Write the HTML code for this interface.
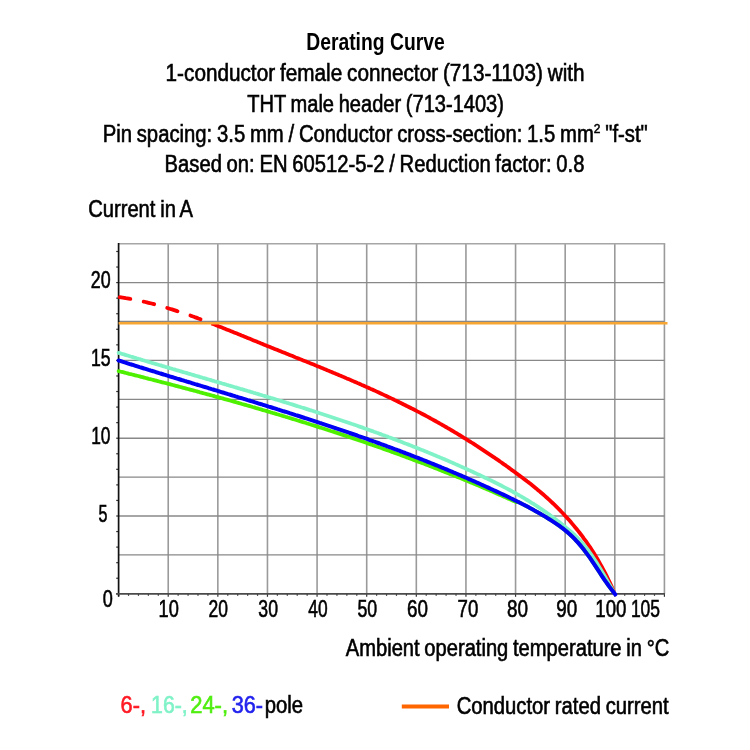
<!DOCTYPE html><html><head><meta charset="utf-8"><title>Derating Curve</title><style>html,body{margin:0;padding:0;background:#fff;overflow:hidden}svg{display:block}text{font-family:'Liberation Sans', 'DejaVu Sans', sans-serif}</style></head><body>
<svg width="750" height="750" viewBox="0 0 750 750">
<rect width="750" height="750" fill="#fff"/>
<g stroke="#9a9a9a" stroke-width="1.6"><line x1="168.22" y1="243.70" x2="168.22" y2="593.80"/><line x1="217.84" y1="243.70" x2="217.84" y2="593.80"/><line x1="267.46" y1="243.70" x2="267.46" y2="593.80"/><line x1="317.08" y1="243.70" x2="317.08" y2="593.80"/><line x1="366.70" y1="243.70" x2="366.70" y2="593.80"/><line x1="416.32" y1="243.70" x2="416.32" y2="593.80"/><line x1="465.94" y1="243.70" x2="465.94" y2="593.80"/><line x1="515.56" y1="243.70" x2="515.56" y2="593.80"/><line x1="565.18" y1="243.70" x2="565.18" y2="593.80"/><line x1="614.80" y1="243.70" x2="614.80" y2="593.80"/><line x1="664.42" y1="243.70" x2="664.42" y2="593.80"/></g>
<g stroke="#888" stroke-width="1.35"><line x1="118.60" y1="554.90" x2="664.42" y2="554.90"/><line x1="118.60" y1="516.00" x2="664.42" y2="516.00"/><line x1="118.60" y1="477.10" x2="664.42" y2="477.10"/><line x1="118.60" y1="438.20" x2="664.42" y2="438.20"/><line x1="118.60" y1="399.30" x2="664.42" y2="399.30"/><line x1="118.60" y1="360.40" x2="664.42" y2="360.40"/><line x1="118.60" y1="321.50" x2="664.42" y2="321.50"/><line x1="118.60" y1="282.60" x2="664.42" y2="282.60"/></g>
<line x1="118.60" y1="243.70" x2="665.22" y2="243.70" stroke="#a6a6a6" stroke-width="1.6"/>
<g stroke="#333" stroke-width="1.2"><line x1="116.20" y1="593.80" x2="118.60" y2="593.80"/><line x1="116.20" y1="578.24" x2="118.60" y2="578.24"/><line x1="116.20" y1="562.68" x2="118.60" y2="562.68"/><line x1="116.20" y1="547.12" x2="118.60" y2="547.12"/><line x1="116.20" y1="531.56" x2="118.60" y2="531.56"/><line x1="116.20" y1="516.00" x2="118.60" y2="516.00"/><line x1="116.20" y1="500.44" x2="118.60" y2="500.44"/><line x1="116.20" y1="484.88" x2="118.60" y2="484.88"/><line x1="116.20" y1="469.32" x2="118.60" y2="469.32"/><line x1="116.20" y1="453.76" x2="118.60" y2="453.76"/><line x1="116.20" y1="438.20" x2="118.60" y2="438.20"/><line x1="116.20" y1="422.64" x2="118.60" y2="422.64"/><line x1="116.20" y1="407.08" x2="118.60" y2="407.08"/><line x1="116.20" y1="391.52" x2="118.60" y2="391.52"/><line x1="116.20" y1="375.96" x2="118.60" y2="375.96"/><line x1="116.20" y1="360.40" x2="118.60" y2="360.40"/><line x1="116.20" y1="344.84" x2="118.60" y2="344.84"/><line x1="116.20" y1="329.28" x2="118.60" y2="329.28"/><line x1="116.20" y1="313.72" x2="118.60" y2="313.72"/><line x1="116.20" y1="298.16" x2="118.60" y2="298.16"/><line x1="116.20" y1="282.60" x2="118.60" y2="282.60"/><line x1="116.20" y1="267.04" x2="118.60" y2="267.04"/><line x1="116.20" y1="251.48" x2="118.60" y2="251.48"/><line x1="118.60" y1="593.80" x2="118.60" y2="596.80"/><line x1="128.52" y1="593.80" x2="128.52" y2="595.80"/><line x1="138.45" y1="593.80" x2="138.45" y2="595.80"/><line x1="148.37" y1="593.80" x2="148.37" y2="595.80"/><line x1="158.30" y1="593.80" x2="158.30" y2="595.80"/><line x1="168.22" y1="593.80" x2="168.22" y2="596.80"/><line x1="178.14" y1="593.80" x2="178.14" y2="595.80"/><line x1="188.07" y1="593.80" x2="188.07" y2="595.80"/><line x1="197.99" y1="593.80" x2="197.99" y2="595.80"/><line x1="207.92" y1="593.80" x2="207.92" y2="595.80"/><line x1="217.84" y1="593.80" x2="217.84" y2="596.80"/><line x1="227.76" y1="593.80" x2="227.76" y2="595.80"/><line x1="237.69" y1="593.80" x2="237.69" y2="595.80"/><line x1="247.61" y1="593.80" x2="247.61" y2="595.80"/><line x1="257.54" y1="593.80" x2="257.54" y2="595.80"/><line x1="267.46" y1="593.80" x2="267.46" y2="596.80"/><line x1="277.38" y1="593.80" x2="277.38" y2="595.80"/><line x1="287.31" y1="593.80" x2="287.31" y2="595.80"/><line x1="297.23" y1="593.80" x2="297.23" y2="595.80"/><line x1="307.16" y1="593.80" x2="307.16" y2="595.80"/><line x1="317.08" y1="593.80" x2="317.08" y2="596.80"/><line x1="327.00" y1="593.80" x2="327.00" y2="595.80"/><line x1="336.93" y1="593.80" x2="336.93" y2="595.80"/><line x1="346.85" y1="593.80" x2="346.85" y2="595.80"/><line x1="356.78" y1="593.80" x2="356.78" y2="595.80"/><line x1="366.70" y1="593.80" x2="366.70" y2="596.80"/><line x1="376.62" y1="593.80" x2="376.62" y2="595.80"/><line x1="386.55" y1="593.80" x2="386.55" y2="595.80"/><line x1="396.47" y1="593.80" x2="396.47" y2="595.80"/><line x1="406.40" y1="593.80" x2="406.40" y2="595.80"/><line x1="416.32" y1="593.80" x2="416.32" y2="596.80"/><line x1="426.24" y1="593.80" x2="426.24" y2="595.80"/><line x1="436.17" y1="593.80" x2="436.17" y2="595.80"/><line x1="446.09" y1="593.80" x2="446.09" y2="595.80"/><line x1="456.02" y1="593.80" x2="456.02" y2="595.80"/><line x1="465.94" y1="593.80" x2="465.94" y2="596.80"/><line x1="475.86" y1="593.80" x2="475.86" y2="595.80"/><line x1="485.79" y1="593.80" x2="485.79" y2="595.80"/><line x1="495.71" y1="593.80" x2="495.71" y2="595.80"/><line x1="505.64" y1="593.80" x2="505.64" y2="595.80"/><line x1="515.56" y1="593.80" x2="515.56" y2="596.80"/><line x1="525.48" y1="593.80" x2="525.48" y2="595.80"/><line x1="535.41" y1="593.80" x2="535.41" y2="595.80"/><line x1="545.33" y1="593.80" x2="545.33" y2="595.80"/><line x1="555.26" y1="593.80" x2="555.26" y2="595.80"/><line x1="565.18" y1="593.80" x2="565.18" y2="596.80"/><line x1="575.10" y1="593.80" x2="575.10" y2="595.80"/><line x1="585.03" y1="593.80" x2="585.03" y2="595.80"/><line x1="594.95" y1="593.80" x2="594.95" y2="595.80"/><line x1="604.88" y1="593.80" x2="604.88" y2="595.80"/><line x1="614.80" y1="593.80" x2="614.80" y2="596.80"/><line x1="624.72" y1="593.80" x2="624.72" y2="595.80"/><line x1="634.65" y1="593.80" x2="634.65" y2="595.80"/><line x1="644.57" y1="593.80" x2="644.57" y2="595.80"/><line x1="654.50" y1="593.80" x2="654.50" y2="595.80"/><line x1="664.42" y1="593.80" x2="664.42" y2="596.80"/></g>
<line x1="118.60" y1="242.90" x2="118.60" y2="596.60" stroke="#111" stroke-width="1.7"/>
<line x1="116.10" y1="593.80" x2="664.92" y2="593.80" stroke="#4a4a4a" stroke-width="1.7"/>
<path d="M119.7,297.2 L121.2,297.4 L122.7,297.6 L124.2,297.8 L125.8,298.1 L127.3,298.3 L128.8,298.6 L130.3,298.9 L131.8,299.1 L133.3,299.4 L134.8,299.7 L136.3,300.0 L137.9,300.4 L139.4,300.7 L140.9,301.0 L142.4,301.3 L143.9,301.7 L145.4,302.0 L146.9,302.4 L148.5,302.8 L150.0,303.2 L151.5,303.5 L153.0,303.9 L154.5,304.3 L156.0,304.7 L157.5,305.1 L159.0,305.6 L160.6,306.0 L162.1,306.4 L163.6,306.9 L165.1,307.3 L166.6,307.8 L168.1,308.2 L169.6,308.7 L171.2,309.2 L172.7,309.6 L174.2,310.1 L175.7,310.6 L177.2,311.1 L178.7,311.6 L180.2,312.1 L181.7,312.6 L183.3,313.1 L184.8,313.6 L186.3,314.1 L187.8,314.7 L189.3,315.2 L190.8,315.7 L192.3,316.3 L193.9,316.8 L195.4,317.4 L196.9,317.9 L198.4,318.5 L199.9,319.0 L201.4,319.6 L202.9,320.2 L204.4,320.7 L206.0,321.3 L207.5,321.9 L209.0,322.5 L210.5,323.1" fill="none" stroke="#ff0000" stroke-width="3.8" stroke-dasharray="10.8 13.6" stroke-linecap="round"/>
<path d="M211.5,323.4 L213.0,324.0 L214.5,324.6 L216.0,325.2 L217.5,325.8 L219.0,326.4 L220.5,327.0 L222.0,327.6 L223.5,328.2 L225.0,328.8 L226.5,329.4 L228.0,330.0 L229.5,330.6 L231.0,331.2 L232.5,331.8 L234.0,332.4 L235.5,333.0 L237.0,333.6 L238.5,334.2 L240.0,334.8 L241.6,335.5 L243.1,336.1 L244.6,336.7 L246.1,337.3 L247.6,337.9 L249.1,338.5 L250.6,339.1 L252.1,339.8 L253.6,340.4 L255.1,341.0 L256.6,341.6 L258.1,342.2 L259.6,342.8 L261.1,343.4 L262.6,344.0 L264.1,344.7 L265.6,345.3 L267.1,345.9 L268.6,346.5 L270.1,347.1 L271.6,347.7 L273.1,348.3 L274.6,348.9 L276.1,349.5 L277.6,350.1 L279.1,350.7 L280.6,351.3 L282.1,351.9 L283.6,352.5 L285.1,353.1 L286.6,353.7 L288.1,354.3 L289.6,354.9 L291.1,355.5 L292.6,356.1 L294.1,356.7 L295.6,357.4 L297.1,358.0 L298.7,358.6 L300.2,359.2 L301.7,359.8 L303.2,360.4 L304.7,361.0 L306.2,361.6 L307.7,362.2 L309.2,362.8 L310.7,363.4 L312.2,364.0 L313.7,364.6 L315.2,365.2 L316.7,365.9 L318.2,366.5 L319.7,367.1 L321.2,367.7 L322.7,368.3 L324.2,368.9 L325.7,369.5 L327.2,370.2 L328.7,370.8 L330.2,371.4 L331.7,372.0 L333.2,372.7 L334.7,373.3 L336.2,373.9 L337.7,374.5 L339.2,375.2 L340.7,375.8 L342.2,376.4 L343.7,377.1 L345.2,377.7 L346.7,378.4 L348.2,379.0 L349.7,379.6 L351.2,380.3 L352.7,380.9 L354.2,381.6 L355.8,382.2 L357.3,382.9 L358.8,383.5 L360.3,384.2 L361.8,384.9 L363.3,385.5 L364.8,386.2 L366.3,386.9 L367.8,387.5 L369.3,388.2 L370.8,388.9 L372.3,389.5 L373.8,390.2 L375.3,390.9 L376.8,391.6 L378.3,392.3 L379.8,393.0 L381.3,393.7 L382.8,394.4 L384.3,395.1 L385.8,395.8 L387.3,396.5 L388.8,397.2 L390.3,397.9 L391.8,398.6 L393.3,399.3 L394.8,400.1 L396.3,400.8 L397.8,401.5 L399.3,402.3 L400.8,403.0 L402.3,403.7 L403.8,404.5 L405.3,405.2 L406.8,406.0 L408.3,406.7 L409.8,407.5 L411.3,408.3 L412.9,409.0 L414.4,409.8 L415.9,410.6 L417.4,411.4 L418.9,412.1 L420.4,412.9 L421.9,413.7 L423.4,414.5 L424.9,415.3 L426.4,416.1 L427.9,416.9 L429.4,417.7 L430.9,418.6 L432.4,419.4 L433.9,420.2 L435.4,421.0 L436.9,421.9 L438.4,422.7 L439.9,423.6 L441.4,424.4 L442.9,425.3 L444.4,426.1 L445.9,427.0 L447.4,427.9 L448.9,428.7 L450.4,429.6 L451.9,430.5 L453.4,431.4 L454.9,432.3 L456.4,433.2 L457.9,434.1 L459.4,435.0 L460.9,435.9 L462.4,436.8 L463.9,437.8 L465.4,438.7 L466.9,439.6 L468.4,440.6 L469.9,441.5 L471.5,442.5 L473.0,443.4 L474.5,444.4 L476.0,445.4 L477.5,446.3 L479.0,447.3 L480.5,448.3 L482.0,449.3 L483.5,450.3 L485.0,451.3 L486.5,452.3 L488.0,453.3 L489.5,454.3 L491.0,455.3 L492.5,456.3 L494.0,457.3 L495.5,458.4 L497.0,459.4 L498.5,460.4 L500.0,461.5 L501.5,462.5 L503.0,463.6 L504.5,464.7 L506.0,465.7 L507.5,466.8 L509.0,467.9 L510.5,469.0 L512.0,470.1 L513.5,471.1 L515.0,472.2 L516.5,473.4 L518.0,474.5 L519.5,475.6 L521.0,476.7 L522.5,477.8 L524.0,479.0 L525.5,480.1 L527.0,481.3 L528.6,482.4 L530.1,483.6 L531.6,484.8 L533.1,486.0 L534.6,487.2 L536.1,488.4 L537.6,489.7 L539.1,490.9 L540.6,492.2 L542.1,493.5 L543.6,494.8 L545.1,496.1 L546.6,497.5 L548.1,498.8 L549.6,500.2 L551.1,501.6 L552.6,503.0 L554.1,504.4 L555.6,505.9 L557.1,507.4 L558.6,508.9 L560.1,510.4 L561.6,512.0 L563.1,513.5 L564.6,515.2 L566.1,516.8 L567.6,518.4 L569.1,520.1 L570.6,521.8 L572.1,523.6 L573.6,525.4 L575.1,527.2 L576.6,529.0 L578.1,530.9 L579.6,532.8 L581.1,534.7 L582.6,536.7 L584.1,538.8 L585.7,540.9 L587.2,543.0 L588.7,545.2 L590.2,547.4 L591.7,549.7 L593.2,552.1 L594.7,554.5 L596.2,557.0 L597.7,559.5 L599.2,562.1 L600.7,564.8 L602.2,567.5 L603.7,570.4 L605.2,573.2 L606.7,576.2 L608.2,579.3 L609.7,582.4 L611.2,585.6 L612.7,589.0 L614.2,592.4" fill="none" stroke="#ff0000" stroke-width="3.8" stroke-linejoin="round"/>
<path d="M118.6,352.8 L120.1,353.2 L121.6,353.7 L123.1,354.2 L124.6,354.6 L126.1,355.1 L127.6,355.5 L129.1,356.0 L130.6,356.5 L132.1,356.9 L133.6,357.4 L135.1,357.8 L136.6,358.3 L138.1,358.7 L139.6,359.2 L141.1,359.6 L142.6,360.1 L144.1,360.5 L145.6,361.0 L147.1,361.4 L148.6,361.9 L150.1,362.3 L151.6,362.8 L153.1,363.2 L154.6,363.7 L156.1,364.1 L157.6,364.5 L159.1,365.0 L160.7,365.4 L162.2,365.9 L163.7,366.3 L165.2,366.8 L166.7,367.2 L168.2,367.6 L169.7,368.1 L171.2,368.5 L172.7,369.0 L174.2,369.4 L175.7,369.9 L177.2,370.3 L178.7,370.7 L180.2,371.2 L181.7,371.6 L183.2,372.1 L184.7,372.5 L186.2,372.9 L187.7,373.4 L189.2,373.8 L190.7,374.2 L192.2,374.7 L193.7,375.1 L195.2,375.6 L196.7,376.0 L198.2,376.4 L199.7,376.9 L201.2,377.3 L202.7,377.8 L204.2,378.2 L205.7,378.6 L207.2,379.1 L208.7,379.5 L210.2,379.9 L211.7,380.4 L213.2,380.8 L214.7,381.3 L216.2,381.7 L217.7,382.1 L219.2,382.6 L220.7,383.0 L222.2,383.5 L223.7,383.9 L225.2,384.3 L226.7,384.8 L228.2,385.2 L229.7,385.7 L231.2,386.1 L232.7,386.5 L234.2,387.0 L235.7,387.4 L237.2,387.9 L238.7,388.3 L240.2,388.8 L241.7,389.2 L243.3,389.6 L244.8,390.1 L246.3,390.5 L247.8,391.0 L249.3,391.4 L250.8,391.9 L252.3,392.3 L253.8,392.8 L255.3,393.2 L256.8,393.7 L258.3,394.1 L259.8,394.6 L261.3,395.0 L262.8,395.5 L264.3,395.9 L265.8,396.4 L267.3,396.8 L268.8,397.3 L270.3,397.7 L271.8,398.2 L273.3,398.6 L274.8,399.1 L276.3,399.6 L277.8,400.0 L279.3,400.5 L280.8,400.9 L282.3,401.4 L283.8,401.9 L285.3,402.3 L286.8,402.8 L288.3,403.2 L289.8,403.7 L291.3,404.2 L292.8,404.6 L294.3,405.1 L295.8,405.6 L297.3,406.1 L298.8,406.5 L300.3,407.0 L301.8,407.5 L303.3,407.9 L304.8,408.4 L306.3,408.9 L307.8,409.4 L309.3,409.9 L310.8,410.3 L312.3,410.8 L313.8,411.3 L315.3,411.8 L316.8,412.3 L318.3,412.7 L319.8,413.2 L321.3,413.7 L322.8,414.2 L324.3,414.7 L325.9,415.2 L327.4,415.7 L328.9,416.2 L330.4,416.7 L331.9,417.2 L333.4,417.7 L334.9,418.2 L336.4,418.7 L337.9,419.2 L339.4,419.7 L340.9,420.2 L342.4,420.7 L343.9,421.2 L345.4,421.7 L346.9,422.2 L348.4,422.7 L349.9,423.2 L351.4,423.8 L352.9,424.3 L354.4,424.8 L355.9,425.3 L357.4,425.8 L358.9,426.4 L360.4,426.9 L361.9,427.4 L363.4,427.9 L364.9,428.5 L366.4,429.0 L367.9,429.5 L369.4,430.1 L370.9,430.6 L372.4,431.1 L373.9,431.7 L375.4,432.2 L376.9,432.8 L378.4,433.3 L379.9,433.9 L381.4,434.4 L382.9,435.0 L384.4,435.5 L385.9,436.1 L387.4,436.6 L388.9,437.2 L390.4,437.7 L391.9,438.3 L393.4,438.9 L394.9,439.4 L396.4,440.0 L397.9,440.6 L399.4,441.1 L400.9,441.7 L402.4,442.3 L403.9,442.9 L405.4,443.5 L406.9,444.0 L408.5,444.6 L410.0,445.2 L411.5,445.8 L413.0,446.4 L414.5,447.0 L416.0,447.6 L417.5,448.2 L419.0,448.8 L420.5,449.4 L422.0,450.0 L423.5,450.6 L425.0,451.2 L426.5,451.8 L428.0,452.4 L429.5,453.1 L431.0,453.7 L432.5,454.3 L434.0,454.9 L435.5,455.5 L437.0,456.2 L438.5,456.8 L440.0,457.4 L441.5,458.1 L443.0,458.7 L444.5,459.3 L446.0,460.0 L447.5,460.6 L449.0,461.3 L450.5,461.9 L452.0,462.6 L453.5,463.2 L455.0,463.9 L456.5,464.6 L458.0,465.2 L459.5,465.9 L461.0,466.6 L462.5,467.2 L464.0,467.9 L465.5,468.6 L467.0,469.3 L468.5,470.0 L470.0,470.6 L471.5,471.3 L473.0,472.0 L474.5,472.7 L476.0,473.4 L477.5,474.1 L479.0,474.8 L480.5,475.5 L482.0,476.2 L483.5,476.9 L485.0,477.7 L486.5,478.4 L488.0,479.1 L489.5,479.8 L491.1,480.5 L492.6,481.3 L494.1,482.0 L495.6,482.8 L497.1,483.5 L498.6,484.3 L500.1,485.0 L501.6,485.8 L503.1,486.6 L504.6,487.4 L506.1,488.1 L507.6,488.9 L509.1,489.7 L510.6,490.5 L512.1,491.4 L513.6,492.2 L515.1,493.0 L516.6,493.9 L518.1,494.7 L519.6,495.6 L521.1,496.4 L522.6,497.3 L524.1,498.2 L525.6,499.1 L527.1,500.0 L528.6,500.9 L530.1,501.8 L531.6,502.8 L533.1,503.7 L534.6,504.7 L536.1,505.6 L537.6,506.6 L539.1,507.6 L540.6,508.6 L542.1,509.6 L543.6,510.6 L545.1,511.7 L546.6,512.7 L548.1,513.8 L549.6,514.9 L551.1,516.0 L552.6,517.1 L554.1,518.2 L555.6,519.3 L557.1,520.5 L558.6,521.6 L560.1,522.8 L561.6,524.0 L563.1,525.2 L564.6,526.4 L566.1,527.7 L567.6,528.9 L569.1,530.2 L570.6,531.5 L572.1,532.8 L573.7,534.2 L575.2,535.7 L576.7,537.1 L578.2,538.6 L579.7,540.2 L581.2,541.8 L582.7,543.5 L584.2,545.3 L585.7,547.1 L587.2,549.0 L588.7,551.0 L590.2,553.1 L591.7,555.3 L593.2,557.5 L594.7,559.7 L596.2,562.1 L597.7,564.5 L599.2,566.9 L600.7,569.4 L602.2,571.9 L603.7,574.5 L605.2,577.0 L606.7,579.6 L608.2,582.3 L609.7,584.9 L611.2,587.5 L612.7,590.2 L614.2,592.8" fill="none" stroke="#80f2c8" stroke-width="3.8" stroke-linejoin="round"/><circle cx="118.60" cy="352.78" r="1.90" fill="#80f2c8"/>
<path d="M118.6,371.1 L120.1,371.5 L121.6,371.8 L123.1,372.2 L124.6,372.6 L126.1,373.0 L127.6,373.4 L129.1,373.8 L130.6,374.1 L132.1,374.5 L133.7,374.9 L135.2,375.3 L136.7,375.7 L138.2,376.0 L139.7,376.4 L141.2,376.8 L142.7,377.2 L144.2,377.6 L145.7,378.0 L147.2,378.4 L148.7,378.8 L150.2,379.1 L151.7,379.5 L153.2,379.9 L154.7,380.3 L156.2,380.7 L157.7,381.1 L159.2,381.5 L160.7,381.9 L162.3,382.3 L163.8,382.7 L165.3,383.0 L166.8,383.4 L168.3,383.8 L169.8,384.2 L171.3,384.6 L172.8,385.0 L174.3,385.4 L175.8,385.8 L177.3,386.2 L178.8,386.6 L180.3,387.0 L181.8,387.4 L183.3,387.8 L184.8,388.2 L186.3,388.6 L187.8,389.0 L189.3,389.4 L190.9,389.8 L192.4,390.2 L193.9,390.6 L195.4,391.0 L196.9,391.4 L198.4,391.8 L199.9,392.3 L201.4,392.7 L202.9,393.1 L204.4,393.5 L205.9,393.9 L207.4,394.3 L208.9,394.7 L210.4,395.1 L211.9,395.5 L213.4,395.9 L214.9,396.4 L216.4,396.8 L217.9,397.2 L219.5,397.6 L221.0,398.0 L222.5,398.4 L224.0,398.9 L225.5,399.3 L227.0,399.7 L228.5,400.1 L230.0,400.5 L231.5,401.0 L233.0,401.4 L234.5,401.8 L236.0,402.2 L237.5,402.7 L239.0,403.1 L240.5,403.5 L242.0,404.0 L243.5,404.4 L245.0,404.8 L246.6,405.2 L248.1,405.7 L249.6,406.1 L251.1,406.5 L252.6,407.0 L254.1,407.4 L255.6,407.9 L257.1,408.3 L258.6,408.7 L260.1,409.2 L261.6,409.6 L263.1,410.1 L264.6,410.5 L266.1,410.9 L267.6,411.4 L269.1,411.8 L270.6,412.3 L272.1,412.7 L273.6,413.2 L275.2,413.6 L276.7,414.1 L278.2,414.5 L279.7,415.0 L281.2,415.4 L282.7,415.9 L284.2,416.3 L285.7,416.8 L287.2,417.2 L288.7,417.7 L290.2,418.2 L291.7,418.6 L293.2,419.1 L294.7,419.5 L296.2,420.0 L297.7,420.5 L299.2,420.9 L300.7,421.4 L302.2,421.9 L303.8,422.3 L305.3,422.8 L306.8,423.3 L308.3,423.7 L309.8,424.2 L311.3,424.7 L312.8,425.2 L314.3,425.6 L315.8,426.1 L317.3,426.6 L318.8,427.1 L320.3,427.6 L321.8,428.0 L323.3,428.5 L324.8,429.0 L326.3,429.5 L327.8,430.0 L329.3,430.5 L330.8,431.0 L332.4,431.4 L333.9,431.9 L335.4,432.4 L336.9,432.9 L338.4,433.4 L339.9,433.9 L341.4,434.4 L342.9,434.9 L344.4,435.4 L345.9,435.9 L347.4,436.4 L348.9,436.9 L350.4,437.4 L351.9,437.9 L353.4,438.4 L354.9,439.0 L356.4,439.5 L357.9,440.0 L359.4,440.5 L361.0,441.0 L362.5,441.5 L364.0,442.0 L365.5,442.5 L367.0,443.1 L368.5,443.6 L370.0,444.1 L371.5,444.6 L373.0,445.2 L374.5,445.7 L376.0,446.2 L377.5,446.7 L379.0,447.3 L380.5,447.8 L382.0,448.3 L383.5,448.9 L385.0,449.4 L386.5,449.9 L388.0,450.5 L389.6,451.0 L391.1,451.6 L392.6,452.1 L394.1,452.7 L395.6,453.2 L397.1,453.7 L398.6,454.3 L400.1,454.8 L401.6,455.4 L403.1,455.9 L404.6,456.5 L406.1,457.1 L407.6,457.6 L409.1,458.2 L410.6,458.7 L412.1,459.3 L413.6,459.9 L415.1,460.4 L416.6,461.0 L418.2,461.6 L419.7,462.1 L421.2,462.7 L422.7,463.3 L424.2,463.8 L425.7,464.4 L427.2,465.0 L428.7,465.6 L430.2,466.2 L431.7,466.7 L433.2,467.3 L434.7,467.9 L436.2,468.5 L437.7,469.1 L439.2,469.7 L440.7,470.3 L442.2,470.9 L443.7,471.5 L445.3,472.1 L446.8,472.7 L448.3,473.3 L449.8,473.9 L451.3,474.5 L452.8,475.1 L454.3,475.7 L455.8,476.3 L457.3,476.9 L458.8,477.5 L460.3,478.1 L461.8,478.7 L463.3,479.3 L464.8,480.0 L466.3,480.6 L467.8,481.2 L469.3,481.8 L470.8,482.5 L472.3,483.1 L473.9,483.7 L475.4,484.3 L476.9,485.0 L478.4,485.6 L479.9,486.2 L481.4,486.9 L482.9,487.5 L484.4,488.2 L485.9,488.8 L487.4,489.5 L488.9,490.1 L490.4,490.7 L491.9,491.4 L493.4,492.1 L494.9,492.7 L496.4,493.4 L497.9,494.0 L499.4,494.7 L500.9,495.3 L502.5,496.0 L504.0,496.7 L505.5,497.3 L507.0,498.0 L508.5,498.7 L510.0,499.3 L511.5,500.0 L513.0,500.7 L514.5,501.4 L516.0,502.1 L518.0,501.8 L519.5,502.6 L521.0,503.3 L522.6,504.1 L524.1,504.9 L525.6,505.7 L527.1,506.5 L528.6,507.3 L530.2,508.1 L531.7,508.9 L533.2,509.8 L534.7,510.6 L536.2,511.5 L537.7,512.3 L539.3,513.2 L540.8,514.1 L542.3,515.0 L543.8,515.9 L545.3,516.8 L546.9,517.7 L548.4,518.6 L549.9,519.6 L551.4,520.5 L552.9,521.5 L554.5,522.5 L556.0,523.5 L557.5,524.6 L559.0,525.6 L560.5,526.8 L562.1,527.9 L563.6,529.1 L565.1,530.3 L566.6,531.5 L568.1,532.9 L569.6,534.2 L571.2,535.6 L572.7,537.1 L574.2,538.6 L575.7,540.2 L577.2,541.8 L578.8,543.5 L580.3,545.3 L581.8,547.1 L583.3,549.0 L584.8,551.0 L586.4,553.0 L587.9,555.1 L589.4,557.2 L590.9,559.3 L592.4,561.6 L594.0,563.8 L595.5,566.1 L597.0,568.5 L598.5,570.8 L600.0,573.1 L601.5,575.4 L603.1,577.7 L604.6,580.0 L606.1,582.2 L607.6,584.3 L609.1,586.4 L610.7,588.5 L612.2,590.4 L613.7,592.4" fill="none" stroke="#4ef000" stroke-width="3.8" stroke-linejoin="round"/><circle cx="118.60" cy="371.09" r="1.90" fill="#4ef000"/>
<path d="M118.6,360.5 L120.1,360.9 L121.6,361.4 L123.1,361.9 L124.6,362.4 L126.1,362.8 L127.6,363.3 L129.1,363.8 L130.6,364.3 L132.1,364.7 L133.6,365.2 L135.1,365.7 L136.6,366.1 L138.1,366.6 L139.6,367.1 L141.1,367.5 L142.6,368.0 L144.1,368.5 L145.6,368.9 L147.1,369.4 L148.6,369.9 L150.1,370.3 L151.6,370.8 L153.1,371.2 L154.6,371.7 L156.1,372.2 L157.6,372.6 L159.1,373.1 L160.6,373.5 L162.1,374.0 L163.6,374.5 L165.1,374.9 L166.6,375.4 L168.1,375.8 L169.6,376.3 L171.1,376.8 L172.6,377.2 L174.1,377.7 L175.6,378.1 L177.1,378.6 L178.6,379.0 L180.1,379.5 L181.6,380.0 L183.1,380.4 L184.6,380.9 L186.1,381.3 L187.6,381.8 L189.1,382.2 L190.6,382.7 L192.1,383.2 L193.6,383.6 L195.1,384.1 L196.6,384.5 L198.1,385.0 L199.6,385.4 L201.1,385.9 L202.6,386.3 L204.1,386.8 L205.6,387.2 L207.1,387.7 L208.6,388.2 L210.1,388.6 L211.6,389.1 L213.1,389.5 L214.6,390.0 L216.1,390.4 L217.6,390.9 L219.1,391.3 L220.6,391.8 L222.1,392.3 L223.6,392.7 L225.1,393.2 L226.6,393.6 L228.1,394.1 L229.6,394.5 L231.1,395.0 L232.6,395.5 L234.1,395.9 L235.6,396.4 L237.1,396.8 L238.6,397.3 L240.1,397.8 L241.6,398.2 L243.2,398.7 L244.7,399.1 L246.2,399.6 L247.7,400.1 L249.2,400.5 L250.7,401.0 L252.2,401.4 L253.7,401.9 L255.2,402.4 L256.7,402.8 L258.2,403.3 L259.7,403.8 L261.2,404.2 L262.7,404.7 L264.2,405.1 L265.7,405.6 L267.2,406.1 L268.7,406.6 L270.2,407.0 L271.7,407.5 L273.2,408.0 L274.7,408.4 L276.2,408.9 L277.7,409.4 L279.2,409.8 L280.7,410.3 L282.2,410.8 L283.7,411.3 L285.2,411.7 L286.7,412.2 L288.2,412.7 L289.7,413.2 L291.2,413.6 L292.7,414.1 L294.2,414.6 L295.7,415.1 L297.2,415.5 L298.7,416.0 L300.2,416.5 L301.7,417.0 L303.2,417.5 L304.7,418.0 L306.2,418.4 L307.7,418.9 L309.2,419.4 L310.7,419.9 L312.2,420.4 L313.7,420.9 L315.2,421.4 L316.7,421.9 L318.2,422.4 L319.7,422.9 L321.2,423.3 L322.7,423.8 L324.2,424.3 L325.7,424.8 L327.2,425.3 L328.7,425.8 L330.2,426.3 L331.7,426.8 L333.2,427.3 L334.7,427.8 L336.2,428.4 L337.7,428.9 L339.2,429.4 L340.7,429.9 L342.2,430.4 L343.7,430.9 L345.2,431.4 L346.7,431.9 L348.2,432.4 L349.7,433.0 L351.2,433.5 L352.7,434.0 L354.2,434.5 L355.7,435.0 L357.2,435.5 L358.7,436.1 L360.2,436.6 L361.7,437.1 L363.2,437.7 L364.7,438.2 L366.2,438.7 L367.7,439.2 L369.2,439.8 L370.7,440.3 L372.2,440.8 L373.7,441.4 L375.2,441.9 L376.7,442.5 L378.2,443.0 L379.7,443.5 L381.2,444.1 L382.7,444.6 L384.2,445.2 L385.7,445.7 L387.2,446.3 L388.7,446.8 L390.2,447.4 L391.7,447.9 L393.2,448.5 L394.7,449.1 L396.2,449.6 L397.7,450.2 L399.2,450.7 L400.7,451.3 L402.2,451.9 L403.7,452.5 L405.2,453.0 L406.7,453.6 L408.2,454.2 L409.7,454.7 L411.2,455.3 L412.7,455.9 L414.2,456.5 L415.7,457.1 L417.2,457.6 L418.7,458.2 L420.2,458.8 L421.7,459.4 L423.2,460.0 L424.7,460.6 L426.2,461.2 L427.7,461.8 L429.2,462.4 L430.7,463.0 L432.2,463.6 L433.7,464.2 L435.2,464.8 L436.7,465.4 L438.2,466.0 L439.7,466.6 L441.2,467.3 L442.7,467.9 L444.2,468.5 L445.7,469.1 L447.2,469.7 L448.7,470.4 L450.2,471.0 L451.7,471.6 L453.2,472.3 L454.7,472.9 L456.2,473.5 L457.7,474.2 L459.2,474.8 L460.7,475.4 L462.2,476.1 L463.7,476.7 L465.2,477.4 L466.7,478.0 L468.2,478.7 L469.7,479.4 L471.2,480.0 L472.7,480.7 L474.2,481.3 L475.7,482.0 L477.2,482.7 L478.7,483.3 L480.2,484.0 L481.7,484.7 L483.2,485.4 L484.7,486.0 L486.2,486.7 L487.7,487.4 L489.2,488.1 L490.7,488.8 L492.3,489.5 L493.8,490.2 L495.3,490.9 L496.8,491.6 L498.3,492.3 L499.8,493.0 L501.3,493.7 L502.8,494.4 L504.3,495.1 L505.8,495.8 L507.3,496.5 L508.8,497.2 L510.3,498.0 L511.8,498.7 L513.3,499.4 L514.8,500.2 L516.3,500.9 L517.8,501.7 L519.3,502.4 L520.8,503.2 L522.3,504.0 L523.8,504.7 L525.3,505.5 L526.8,506.3 L528.3,507.1 L529.8,507.9 L531.3,508.7 L532.8,509.5 L534.3,510.4 L535.8,511.2 L537.3,512.1 L538.8,512.9 L540.3,513.8 L541.8,514.7 L543.3,515.5 L544.8,516.4 L546.3,517.3 L547.8,518.3 L549.3,519.2 L550.8,520.1 L552.3,521.1 L553.8,522.1 L555.3,523.1 L556.8,524.1 L558.3,525.1 L559.8,526.2 L561.3,527.3 L562.8,528.4 L564.3,529.6 L565.8,530.9 L567.3,532.1 L568.8,533.4 L570.3,534.8 L571.8,536.2 L573.3,537.7 L574.8,539.2 L576.3,540.8 L577.8,542.4 L579.3,544.1 L580.8,545.9 L582.3,547.7 L583.8,549.6 L585.3,551.6 L586.8,553.6 L588.3,555.6 L589.8,557.7 L591.3,559.9 L592.8,562.1 L594.3,564.3 L595.8,566.6 L597.3,568.9 L598.8,571.2 L600.3,573.5 L601.8,575.8 L603.3,578.1 L604.8,580.3 L606.3,582.4 L607.8,584.5 L609.3,586.6 L610.8,588.6 L612.3,590.6 L613.8,592.5 L615.3,594.4" fill="none" stroke="#0000f5" stroke-width="4.0" stroke-linecap="round" stroke-linejoin="round"/>
<line x1="118.60" y1="323.2" x2="667.5" y2="323.2" stroke="#f7a533" stroke-width="2.4"/>
<text x="306.21" y="49.70" textLength="138.49" lengthAdjust="spacingAndGlyphs" font-size="23" font-weight="bold" fill="#000">Derating Curve</text>
<text x="165.59" y="80.60" textLength="418.98" lengthAdjust="spacingAndGlyphs" font-size="23" fill="#000" stroke="#000" stroke-width="0.6" word-spacing="-1">1-conductor female connector (713-1103) with</text>
<text x="247.23" y="111.60" textLength="256.72" lengthAdjust="spacingAndGlyphs" font-size="23" fill="#000" stroke="#000" stroke-width="0.6" word-spacing="-1">THT male header (713-1403)</text>
<text x="102.65" y="141.90" textLength="545.12" lengthAdjust="spacingAndGlyphs" font-size="23" fill="#000" stroke="#000" stroke-width="0.6" word-spacing="-1">Pin spacing: 3.5 mm / Conductor cross-section: 1.5 mm<tspan font-size="13.5" dy="-9.3">2</tspan><tspan dy="9.3"> "f-st"</tspan></text>
<text x="164.56" y="172.00" textLength="419.85" lengthAdjust="spacingAndGlyphs" font-size="23" fill="#000" stroke="#000" stroke-width="0.6" word-spacing="-1">Based on: EN 60512-5-2 / Reduction factor: 0.8</text>
<text x="88.14" y="216.50" textLength="104.90" lengthAdjust="spacingAndGlyphs" font-size="23.6" fill="#000" stroke="#000" stroke-width="0.6" word-spacing="-1">Current in A</text>
<text x="345.80" y="655.70" textLength="323.47" lengthAdjust="spacingAndGlyphs" font-size="23" fill="#000" stroke="#000" stroke-width="0.6" word-spacing="-1">Ambient operating temperature in °C</text>
<text x="456.71" y="713.60" textLength="211.90" lengthAdjust="spacingAndGlyphs" font-size="23" fill="#000" stroke="#000" stroke-width="0.6" word-spacing="-1">Conductor rated current</text>
<text x="120.57" y="712.80" textLength="25.36" lengthAdjust="spacingAndGlyphs" font-size="23" fill="#ff1a24" stroke="#ff1a24" stroke-width="0.6">6-,</text>
<text x="151.09" y="712.80" textLength="36.64" lengthAdjust="spacingAndGlyphs" font-size="23" fill="#80f2c8" stroke="#80f2c8" stroke-width="0.6">16-,</text>
<text x="190.20" y="712.80" textLength="37.83" lengthAdjust="spacingAndGlyphs" font-size="23" fill="#50ee10" stroke="#50ee10" stroke-width="0.6">24-,</text>
<text x="231.70" y="712.80" textLength="31.36" lengthAdjust="spacingAndGlyphs" font-size="23" fill="#2323ee" stroke="#2323ee" stroke-width="0.6">36-</text>
<text x="264.65" y="712.80" textLength="38.34" lengthAdjust="spacingAndGlyphs" font-size="23" fill="#000" stroke="#000" stroke-width="0.6">pole</text>
<text x="90.83" y="288.00" textLength="19.86" lengthAdjust="spacingAndGlyphs" font-size="23" fill="#000" stroke="#000" stroke-width="0.6">20</text>
<text x="90.97" y="366.10" textLength="19.64" lengthAdjust="spacingAndGlyphs" font-size="23" fill="#000" stroke="#000" stroke-width="0.6">15</text>
<text x="91.19" y="443.80" textLength="19.29" lengthAdjust="spacingAndGlyphs" font-size="23" fill="#000" stroke="#000" stroke-width="0.6">10</text>
<text x="98.59" y="521.80" textLength="8.95" lengthAdjust="spacingAndGlyphs" font-size="23" fill="#000" stroke="#000" stroke-width="0.6">5</text>
<text x="102.84" y="606.60" textLength="10.06" lengthAdjust="spacingAndGlyphs" font-size="23" fill="#000" stroke="#000" stroke-width="0.6">0</text>
<text x="158.53" y="616.80" textLength="20.27" lengthAdjust="spacingAndGlyphs" font-size="23" fill="#000" stroke="#000" stroke-width="0.6">10</text>
<text x="208.55" y="616.80" textLength="19.43" lengthAdjust="spacingAndGlyphs" font-size="23" fill="#000" stroke="#000" stroke-width="0.6">20</text>
<text x="258.34" y="616.80" textLength="19.64" lengthAdjust="spacingAndGlyphs" font-size="23" fill="#000" stroke="#000" stroke-width="0.6">30</text>
<text x="308.25" y="616.80" textLength="19.33" lengthAdjust="spacingAndGlyphs" font-size="23" fill="#000" stroke="#000" stroke-width="0.6">40</text>
<text x="357.44" y="616.80" textLength="19.75" lengthAdjust="spacingAndGlyphs" font-size="23" fill="#000" stroke="#000" stroke-width="0.6">50</text>
<text x="406.99" y="616.80" textLength="20.94" lengthAdjust="spacingAndGlyphs" font-size="23" fill="#000" stroke="#000" stroke-width="0.6">60</text>
<text x="457.59" y="616.80" textLength="20.73" lengthAdjust="spacingAndGlyphs" font-size="23" fill="#000" stroke="#000" stroke-width="0.6">70</text>
<text x="506.98" y="616.80" textLength="21.05" lengthAdjust="spacingAndGlyphs" font-size="23" fill="#000" stroke="#000" stroke-width="0.6">80</text>
<text x="556.24" y="616.80" textLength="20.99" lengthAdjust="spacingAndGlyphs" font-size="23" fill="#000" stroke="#000" stroke-width="0.6">90</text>
<text x="595.31" y="616.80" textLength="31.11" lengthAdjust="spacingAndGlyphs" font-size="23" fill="#000" stroke="#000" stroke-width="0.6">100</text>
<text x="630.88" y="616.80" textLength="29.14" lengthAdjust="spacingAndGlyphs" font-size="23" fill="#000" stroke="#000" stroke-width="0.6">105</text>
<line x1="401.8" y1="706.6" x2="449" y2="706.6" stroke="#ff6600" stroke-width="4"/>
</svg></body></html>
